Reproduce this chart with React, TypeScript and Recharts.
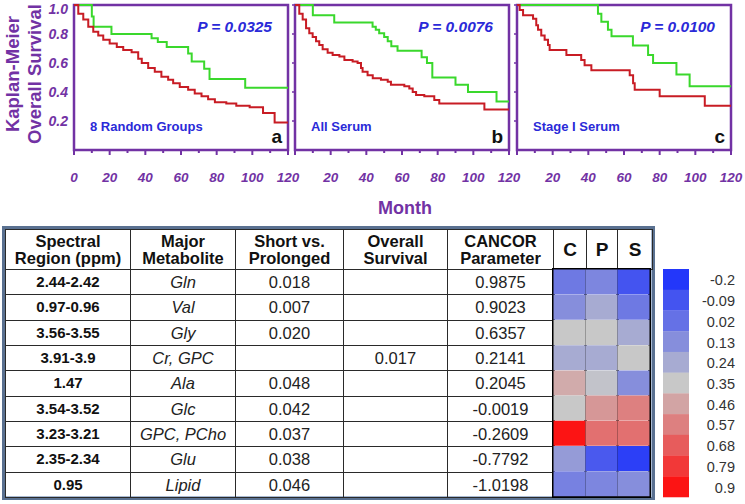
import React from 'react';
import { LineChart, Line, XAxis, YAxis, ReferenceArea, BarChart, Bar, Cell } from 'recharts';

// Kaplan-Meier steps: [month, survival after the drop]
const randomGreen: [number, number][] = [
  [0, 1], [10, 0.92], [11, 0.85], [21, 0.8], [43.5, 0.77], [47, 0.745], [52, 0.71],
  [64, 0.665], [66, 0.61], [73, 0.56], [76, 0.49], [96, 0.43], [120, 0.43],
];
const randomRed: [number, number][] = [
  [0, 1], [2.4, 0.94], [5.2, 0.9], [8, 0.85], [10.8, 0.815], [13.6, 0.79], [16.4, 0.76],
  [20, 0.735], [24, 0.71], [27.6, 0.69], [32.3, 0.675], [36, 0.63], [38, 0.6], [41.6, 0.565],
  [45.3, 0.54], [49, 0.505], [52.8, 0.485], [55.6, 0.46], [59.3, 0.435], [64, 0.415],
  [67.7, 0.39], [71.5, 0.37], [75.2, 0.35], [79, 0.33], [85.4, 0.32], [91, 0.305],
  [98.5, 0.295], [106, 0.255], [112.5, 0.19], [120, 0.19],
];
const serumGreen: [number, number][] = [
  [0, 1], [10, 0.93], [22, 0.88], [43.5, 0.85], [45.3, 0.83], [47.2, 0.805], [50, 0.78],
  [52, 0.75], [54, 0.715], [57.5, 0.685], [71, 0.64], [74, 0.6], [77, 0.5], [90, 0.45],
  [97, 0.4], [113, 0.335], [120, 0.335],
];
const serumRed: [number, number][] = [
  [0, 1], [2.4, 0.94], [4.3, 0.9], [6.2, 0.84], [8, 0.805], [9.9, 0.78], [11.8, 0.75],
  [13.6, 0.725], [15.5, 0.695], [18.3, 0.67], [21.1, 0.655], [24.9, 0.645], [27.7, 0.62],
  [32.3, 0.61], [35.1, 0.6], [37, 0.565], [37.9, 0.54], [40.7, 0.515], [43.6, 0.495],
  [48.2, 0.485], [52, 0.47], [53.8, 0.45], [61.3, 0.44], [64.1, 0.425], [66, 0.4],
  [67.9, 0.38], [72.5, 0.37], [78.1, 0.345], [80.9, 0.32], [106.2, 0.28], [120, 0.28],
];
const stageGreen: [number, number][] = [
  [0, 1], [45.4, 0.94], [47.3, 0.885], [51, 0.83], [53, 0.785], [65, 0.72], [73.5, 0.655],
  [76.3, 0.6], [89.4, 0.52], [96.8, 0.44], [120, 0.44],
];
const stageRed: [number, number][] = [
  [0, 1], [1.5, 0.965], [3.4, 0.93], [9, 0.905], [10.8, 0.86], [11.8, 0.83], [13.6, 0.79],
  [15.5, 0.76], [17.4, 0.725], [18.3, 0.69], [27.7, 0.655], [36, 0.62], [37.9, 0.585],
  [41.7, 0.55], [63.2, 0.515], [65.1, 0.46], [66, 0.415], [80, 0.37], [105.3, 0.305], [120, 0.305],
];

const monthTicks = [0, 10, 20, 30, 40, 50, 60, 70, 80, 90, 100, 110, 120];
const survivalTicks = [0.2, 0.4, 0.6, 0.8, 1.0];

// table
const regions = ['2.44-2.42', '0.97-0.96', '3.56-3.55', '3.91-3.9', '1.47', '3.54-3.52', '3.23-3.21', '2.35-2.34', '0.95'];
const metabolites = ['Gln', 'Val', 'Gly', 'Cr, GPC', 'Ala', 'Glc', 'GPC, PCho', 'Glu', 'Lipid'];
const shortVsProlonged = ['0.018', '0.007', '0.020', '', '0.048', '0.042', '0.037', '0.038', '0.046'];
const overallSurvival = ['', '', '', '0.017', '', '', '', '', ''];
const cancor = ['0.9875', '0.9023', '0.6357', '0.2141', '0.2045', '-0.0019', '-0.2609', '-0.7792', '-1.0198'];

// heatmap values (C, P, S)
const heatC = [0.05, 0.13, 0.35, 0.24, 0.44, 0.35, 0.9, 0.18, 0.08];
const heatP = [0.1, 0.24, 0.35, 0.24, 0.33, 0.5, 0.62, -0.07, 0.1];
const heatS = [-0.09, 0.05, 0.24, 0.35, 0.13, 0.57, 0.62, -0.17, 0.13];
const legendStops = [-0.2, -0.09, 0.02, 0.13, 0.24, 0.35, 0.46, 0.57, 0.68, 0.79, 0.9];

const PURPLE = '#7232a4';
const BLUE_TXT = '#2a2ad8';
const FONT = '"Liberation Sans", Arial, sans-serif';

const mix = (a: number[], b: number[], t: number) =>
  `rgb(${a.map((v, i) => Math.round(v + (b[i] - v) * t)).join(',')})`;
const heatColor = (v: number) => {
  const lo = [35, 55, 250];
  const mid = [200, 200, 200];
  const hi = [252, 20, 20];
  const t = Math.max(0, Math.min(1, (v + 0.2) / 1.1));
  return t < 0.5 ? mix(lo, mid, t / 0.5) : mix(mid, hi, (t - 0.5) / 0.5);
};

const toPts = (arr: [number, number][]) => arr.map(([m, s]) => ({ m, s }));

const MonthTick = ({ x, y, payload, showZero }: any) => {
  const v = payload.value;
  const major = v % 20 === 0;
  return (
    <g>
      <line x1={x} y1={y} x2={x} y2={y + (major ? 5 : 3)} stroke={PURPLE} strokeWidth={2} />
      {major && (v !== 0 || showZero) && (
        <text x={x} y={y + 32} textAnchor='middle' fill={PURPLE} fontSize={13.5}
          fontWeight='bold' fontStyle='italic' fontFamily={FONT}>
          {v}
        </text>
      )}
    </g>
  );
};

// top label sits a little lower so it stays inside the picture
const SurvivalTick = ({ x, y, payload }: any) => (
  <text x={x} y={y + (payload.value === 1 ? 9 : 5)} textAnchor='end' fill={PURPLE} fontSize={14}
    fontWeight='bold' fontStyle='italic' fontFamily={FONT}>
    {Number(payload.value).toFixed(1)}
  </text>
);

const SmallYTick = ({ x, y }: any) => (
  <line x1={x - 3} y1={y} x2={x} y2={y} stroke={PURPLE} strokeWidth={1.5} />
);

const KMPanel = ({ left, green, red, p, label, letter, first }: {
  left: number; green: [number, number][]; red: [number, number][];
  p: string; label: string; letter: string; first?: boolean;
}) => {
  const yw = first ? 74 : 10;
  const plotLeft = left + yw;
  const plotRight = plotLeft + 214;
  return (
    <>
      <div style={{ position: 'absolute', left, top: 0 }}>
        <LineChart width={yw + 214 + 4} height={190} margin={{ top: 5, right: 4, bottom: 0, left: 0 }}>
          <XAxis type='number' dataKey='m' domain={[0, 120]} ticks={monthTicks} height={40}
            axisLine={false} tickLine={false} tickSize={0} tickMargin={0}
            tick={(props: any) => <MonthTick {...props} showZero={first} />} interval={0} />
          {first ? (
            <YAxis type='number' domain={[0, 1]} ticks={survivalTicks} width={yw}
              axisLine={false} tickLine={false} tickSize={0} tickMargin={6} interval={0}
              tick={(props: any) => <SurvivalTick {...props} />} />
          ) : (
            <YAxis type='number' domain={[0, 1]} ticks={survivalTicks} width={yw}
              axisLine={false} tickLine={false} tickSize={0} tickMargin={0} interval={0}
              tick={(props: any) => <SmallYTick {...props} />} />
          )}
          <ReferenceArea x1={0} x2={120} y1={0} y2={1} fill='none' stroke={PURPLE} strokeWidth={2.5} />
          <Line data={toPts(green)} dataKey='s' type='stepAfter' stroke='#3ad82c'
            strokeWidth={2} dot={false} isAnimationActive={false} />
          <Line data={toPts(red)} dataKey='s' type='stepAfter' stroke='#c81c24'
            strokeWidth={2} dot={false} isAnimationActive={false} />
        </LineChart>
      </div>
      <div style={{ position: 'absolute', left: plotRight - 16, top: 19, transform: 'translateX(-100%)',
        fontSize: 15.5, lineHeight: '16px', fontWeight: 'bold', fontStyle: 'italic', color: BLUE_TXT, whiteSpace: 'nowrap' }}>
        {p}
      </div>
      <div style={{ position: 'absolute', left: plotLeft + 16, top: 120, fontSize: 13, lineHeight: '14px',
        fontWeight: 'bold', color: BLUE_TXT, whiteSpace: 'nowrap' }}>
        {label}
      </div>
      <div style={{ position: 'absolute', left: plotRight - 6, top: 127, transform: 'translateX(-100%)',
        fontSize: 19, lineHeight: '19px', fontWeight: 'bold', color: '#111' }}>
        {letter}
      </div>
    </>
  );
};

const LegendTick = ({ x, y, payload }: any) => (
  <text x={x + 46} y={y} dy={6} textAnchor='end' fill='#333' fontSize={14.5} fontFamily={FONT}>
    {payload.value}
  </text>
);

const colW = [125, 105, 108, 104, 106, 33, 31, 35];
const cellBorder = '1px solid #2a2a2a';

export default function App() {
  const heatData = regions.map((r) => ({ name: r, C: 1, P: 1, S: 1 }));
  const legendData = legendStops.map((v) => ({ label: String(v), v: 1, val: v }));
  const th: React.CSSProperties = { border: cellBorder, padding: 0, fontSize: 16.5, lineHeight: '17px', fontWeight: 'bold', textAlign: 'center', color: '#111' };
  const td: React.CSSProperties = { border: cellBorder, padding: 0, fontSize: 16.5, lineHeight: '20px', textAlign: 'center', color: '#222' };

  return (
    <div style={{ position: 'absolute', left: 0, top: 0, width: 745, height: 504, background: '#fff', fontFamily: FONT, overflow: 'hidden' }}>
      <style>{'.recharts-surface { overflow: visible; }'}</style>
      {/* y title */}
      <div style={{ position: 'absolute', left: 24 - 85, top: 74 - 22, width: 170, height: 44,
        transform: 'rotate(-90deg)', textAlign: 'center', fontSize: 18.5, lineHeight: '22px',
        fontWeight: 'bold', color: PURPLE, whiteSpace: 'nowrap' }}>
        Kaplan-Meier<br />Overall Survival
      </div>

      <KMPanel left={0} first green={randomGreen} red={randomRed} p='P = 0.0325' label='8 Random Groups' letter='a' />
      <KMPanel left={285} green={serumGreen} red={serumRed} p='P = 0.0076' label='All Serum' letter='b' />
      <KMPanel left={507} green={stageGreen} red={stageRed} p='P = 0.0100' label='Stage I Serum' letter='c' />

      <div style={{ position: 'absolute', left: 405, top: 198, transform: 'translateX(-50%)', fontSize: 18,
        lineHeight: '20px', fontWeight: 'bold', color: PURPLE }}>
        Month
      </div>

      {/* table frame */}
      <div style={{ position: 'absolute', left: 2, top: 226, width: 653, height: 274, boxSizing: 'border-box',
        border: '3px solid #5a7191', boxShadow: 'inset 0 0 0 1px #a9bad2' }} />
      <table style={{ position: 'absolute', left: 5, top: 229, width: 647, borderCollapse: 'collapse', tableLayout: 'fixed' }}>
        <colgroup>
          {colW.map((w, i) => <col key={i} style={{ width: w }} />)}
        </colgroup>
        <thead>
          <tr style={{ height: 40 }}>
            <th style={th}>Spectral<br />Region (ppm)</th>
            <th style={th}>Major<br />Metabolite</th>
            <th style={th}>Short vs.<br />Prolonged</th>
            <th style={th}>Overall<br />Survival</th>
            <th style={th}>CANCOR<br />Parameter</th>
            <th style={{ ...th, fontSize: 19 }}>C</th>
            <th style={{ ...th, fontSize: 19 }}>P</th>
            <th style={{ ...th, fontSize: 19 }}>S</th>
          </tr>
        </thead>
        <tbody>
          {regions.map((r, i) => (
            <tr key={r} style={{ height: 25.33 }}>
              <td style={{ ...td, fontWeight: 'bold', fontSize: 15, color: '#111' }}>{r}</td>
              <td style={{ ...td, fontStyle: 'italic' }}>{metabolites[i]}</td>
              <td style={td}>{shortVsProlonged[i]}</td>
              <td style={td}>{overallSurvival[i]}</td>
              <td style={td}>{cancor[i]}</td>
              {i === 0 && <td colSpan={3} rowSpan={9} style={{ padding: 0 }} />}
            </tr>
          ))}
        </tbody>
      </table>

      {/* heatmap */}
      <div style={{ position: 'absolute', left: 552, top: 268 }}>
        <BarChart width={99} height={230} data={heatData} layout='vertical' barCategoryGap={0}
          margin={{ top: 1.5, right: 1.5, bottom: 1.5, left: 1.5 }}>
          <XAxis type='number' domain={[0, 3]} hide />
          <YAxis type='category' dataKey='name' hide />
          <Bar dataKey='C' stackId='h' isAnimationActive={false}>
            {heatC.map((v, i) => <Cell key={i} fill={heatColor(v)} />)}
          </Bar>
          <Bar dataKey='P' stackId='h' isAnimationActive={false}>
            {heatP.map((v, i) => <Cell key={i} fill={heatColor(v)} />)}
          </Bar>
          <Bar dataKey='S' stackId='h' isAnimationActive={false}>
            {heatS.map((v, i) => <Cell key={i} fill={heatColor(v)} />)}
          </Bar>
          {[0, 1, 2].map((c) => (
            <ReferenceArea key={c} x1={c} x2={c + 1} fill='none' stroke='#000' strokeWidth={3} ifOverflow='visible' />
          ))}
        </BarChart>
      </div>

      {/* colour scale */}
      <div style={{ position: 'absolute', left: 663, top: 269 }}>
        <BarChart width={82} height={228} data={legendData} layout='vertical' barCategoryGap={0}
          margin={{ top: 0, right: 0, bottom: 0, left: 0 }}>
          <XAxis type='number' domain={[0, 1]} hide />
          <YAxis type='category' dataKey='label' orientation='right' width={56} axisLine={false}
            tickLine={false} tickSize={0} tickMargin={0} interval={0} tick={(props: any) => <LegendTick {...props} />} />
          <Bar dataKey='v' isAnimationActive={false}>
            {legendStops.map((v, i) => <Cell key={i} fill={heatColor(v)} />)}
          </Bar>
        </BarChart>
      </div>
    </div>
  );
}
